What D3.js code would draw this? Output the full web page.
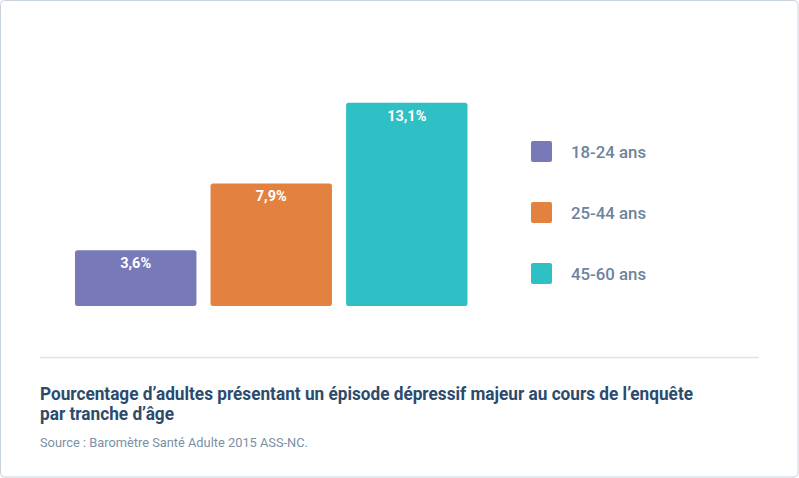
<!DOCTYPE html>
<html><head><meta charset="utf-8">
<script src="https://cdn.jsdelivr.net/npm/d3@7"></script>
<style>html,body{margin:0;padding:0;background:#fff;}svg{display:block;font-family:Roboto,"Noto Sans",sans-serif;}</style>
</head><body>
<svg id="c" width="799" height="478"></svg>
<script>
const categories = ["18-24 ans", "25-44 ans", "45-60 ans"];
const values = [3.6, 7.9, 13.1];
const valueLabels = ["3,6%", "7,9%", "13,1%"];
const colors = ["#7779b9", "#e3823e", "#2fc0c6"];
const titleLines = ["Pourcentage d\u2019adultes pr\u00e9sentant un \u00e9pisode d\u00e9pressif majeur au cours de l\u2019enqu\u00eate", "par tranche d\u2019\u00e2ge"];
const sourceText = "Source : Barom\u00e8tre Sant\u00e9 Adulte 2015 ASS-NC.";

const svg = d3.select("#c");
svg.append("rect").attr("x",0.5).attr("y",0.5).attr("width",797.5).attr("height",476.5)
  .attr("rx",4).attr("fill","#fff").attr("stroke","#c8d2dd").attr("stroke-width",1);

const x = d3.scaleBand().domain(categories).range([75, 467.5]).paddingInner(0.104).paddingOuter(0);
const y = d3.scaleLinear().domain([0, 13.1]).range([306, 102.7]);

const g = svg.append("g");
g.selectAll("rect.bar").data(values).join("rect").attr("class","bar")
  .attr("x",(d,i)=>x(categories[i])).attr("width",x.bandwidth())
  .attr("y",d=>y(d)).attr("height",d=>y(0)-y(d))
  .attr("rx",2.5).attr("fill",(d,i)=>colors[i]);
g.selectAll("text.val").data(values).join("text").attr("class","val")
  .attr("x",(d,i)=>x(categories[i])+x.bandwidth()/2).attr("y",d=>y(d)+18)
  .attr("text-anchor","middle").attr("fill","#fff").attr("font-weight",700).attr("font-size",14.5)
  .text((d,i)=>valueLabels[i]);

const leg = svg.append("g");
const ly = d3.scalePoint().domain(categories).range([151.5, 273.5]);
categories.forEach((c,i)=>{
  leg.append("rect").attr("x",531).attr("y",ly(c)-10.5).attr("width",21).attr("height",21).attr("rx",2).attr("fill",colors[i]);
  leg.append("text").attr("x",571).attr("y",ly(c)+6.3).attr("font-size",16.8).attr("font-weight",500)
    .attr("fill","#6c839b").text(c);
});

svg.append("line").attr("x1",40).attr("x2",759).attr("y1",357.5).attr("y2",357.5)
  .attr("stroke","#dde2e8").attr("stroke-width",1.5);

const titleWidths = [653, 134];
titleLines.forEach((t,i)=>{
  const tx = svg.append("text").attr("x",40).attr("y",400+i*20).attr("font-size",18).attr("font-weight",700)
    .attr("fill","#2c4b6c").text(t);
  const w = tx.node().getComputedTextLength();
  if (w > titleWidths[i]) tx.attr("textLength", titleWidths[i]).attr("lengthAdjust","spacingAndGlyphs");
});
const st = svg.append("text").attr("x",40).attr("y",446.5).attr("font-size",13).attr("fill","#7a90a6").text(sourceText);
const sw = st.node().getComputedTextLength();
if (sw > 268) st.attr("textLength",268).attr("lengthAdjust","spacingAndGlyphs");
</script>
</body></html>
